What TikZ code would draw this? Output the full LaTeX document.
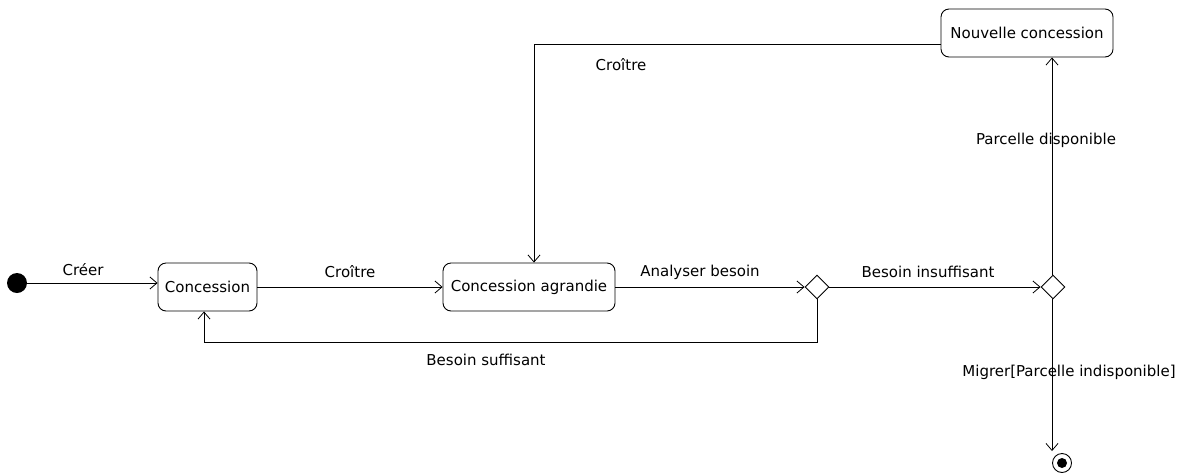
\documentclass[tikz,border=0pt]{standalone}
\usepackage{fontspec}
\setmainfont{DejaVu Sans}
\usetikzlibrary{shapes.geometric,arrows.meta}

\begin{document}
\begin{tikzpicture}[x=1pt,y=-1pt,
  font=\fontsize{15}{18}\selectfont,
  state/.style={draw, line width=0.9pt, rounded corners=8pt, minimum height=48pt, inner sep=0pt, fill=white},
  choice/.style={draw, line width=0.9pt, diamond, minimum width=24pt, minimum height=24pt, inner sep=0pt, fill=white},
  flow/.style={draw, line width=0.8pt, -{Straight Barb[length=7pt,width=12pt]}},
  lbl/.style={inner sep=0pt}]
\useasboundingbox (0,0) rectangle (1193,472);

% states and pseudo-states
\node[circle, fill=black, minimum size=20pt, inner sep=0pt] (init) at (17,283) {};
\node[state, minimum width=99pt]  (conc) at (207.5,287) {Concession};
\node[state, minimum width=172pt] (agr)  at (529,287)   {Concession agrandie};
\node[state, minimum width=172pt] (nouv) at (1027,33)   {Nouvelle concession};
\node[choice] (d1) at (817,287) {};
\node[choice] (d2) at (1053,287) {};
\node[circle, draw, line width=0.9pt, minimum size=19pt, inner sep=0pt] (fin) at (1062,463) {};
\node[circle, fill=black, minimum size=10pt, inner sep=0pt] at (fin) {};
\coordinate (ret) at (0,342);

% transitions
\draw[flow] (init.east) -- (init -| conc.west);
\draw[flow] (conc) -- (agr);
\draw[flow] (agr) -- (d1.west);
\draw[flow] (d1) -- (d2.west);
\draw[flow] ([xshift=-1pt]d2.north) -- ([xshift=-1pt]d2.north |- nouv.south);
\draw[flow] ([yshift=-11pt]nouv.west) -| ([xshift=5pt]agr.north);
\draw[flow] (d1.south) -- (d1.south |- ret) -| ([xshift=-3.5pt]conc.south);
\draw[flow] ([xshift=-1pt]d2.south) -- ([xshift=-1pt,yshift=2pt]d2.south |- fin.north);

% transition labels
\node[lbl] (tcreer) at (83,270)  {Créer};
\node[lbl] (tcroit) at (350,272) {Croître};
\node[lbl] (tanal)  at (700,272) {Analyser besoin};
\node[lbl] (tinsuf) at (928,272) {Besoin insuffisant};
\node[lbl] (tsuf)   at (486,360) {Besoin suffisant};
\node[lbl] (tcroi2) at (621,65)  {Croître};
\node[lbl] (tdisp)  at (1046,140) {Parcelle disponible};
\node[lbl] (tmigr)  at (1069,372) {Migrer[Parcelle indisponible]};
\end{tikzpicture}
\end{document}
